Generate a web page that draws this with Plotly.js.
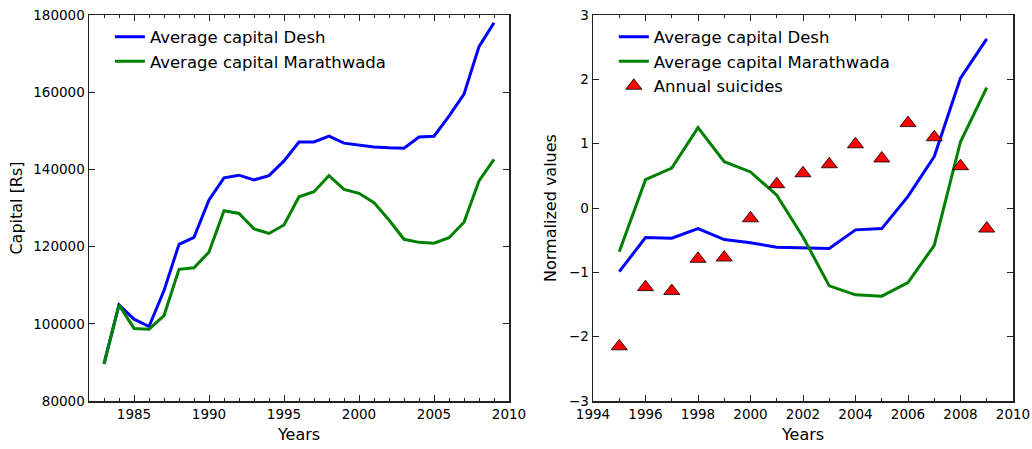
<!DOCTYPE html>
<html>
<head>
<meta charset="utf-8">
<script src="https://cdn.plot.ly/plotly-3.0.1.min.js"></script>
<style>html,body{margin:0;padding:0;background:#fff;}#chart{width:1032px;height:449px;}</style>
</head>
<body>
<div id="chart"></div>
<script>
// Left panel: capital in Rs
const yearsLeft = [1983,1984,1985,1986,1987,1988,1989,1990,1991,1992,1993,1994,1995,1996,1997,1998,1999,2000,2001,2002,2003,2004,2005,2006,2007,2008,2009];
const capitalDesh = [89600,104900,101200,99300,108600,120600,122400,132100,137800,138500,137300,138400,142200,147100,147100,148600,146800,146300,145800,145600,145500,148400,148600,153800,159500,171800,178000];
const capitalMarathwada = [89600,104900,98800,98600,102100,114100,114500,118600,129300,128600,124600,123400,125600,132900,134200,138400,134800,133800,131400,126900,121900,121100,120900,122300,126300,137000,142600];

// Right panel: normalized values
const yearsRight = [1995,1996,1997,1998,1999,2000,2001,2002,2003,2004,2005,2006,2007,2008,2009];
const normDesh = [-0.99,-0.46,-0.47,-0.32,-0.49,-0.54,-0.61,-0.62,-0.63,-0.34,-0.32,0.18,0.80,2.02,2.63];
const normMarathwada = [-0.68,0.44,0.62,1.25,0.72,0.56,0.20,-0.45,-1.21,-1.35,-1.37,-1.16,-0.58,1.03,1.87];
const normSuicides = [-2.15,-1.23,-1.29,-0.79,-0.77,-0.16,0.37,0.54,0.68,0.99,0.77,1.32,1.10,0.65,-0.32];

const labels = {desh: 'Average capital Desh', mar: 'Average capital Marathwada', sui: 'Annual suicides'};

const traces = [
  {x: yearsLeft, y: capitalDesh, name: labels.desh, type: 'scatter', mode: 'lines', line: {color: '#0000ff', width: 3}, xaxis: 'x', yaxis: 'y', legend: 'legend'},
  {x: yearsLeft, y: capitalMarathwada, name: labels.mar, type: 'scatter', mode: 'lines', line: {color: '#008000', width: 3}, xaxis: 'x', yaxis: 'y', legend: 'legend'},
  {x: yearsRight, y: normDesh, name: labels.desh, type: 'scatter', mode: 'lines', line: {color: '#0000ff', width: 3}, xaxis: 'x2', yaxis: 'y2', legend: 'legend2'},
  {x: yearsRight, y: normMarathwada, name: labels.mar, type: 'scatter', mode: 'lines', line: {color: '#008000', width: 3}, xaxis: 'x2', yaxis: 'y2', legend: 'legend2'},
  {x: yearsRight, y: normSuicides, name: labels.sui, type: 'scatter', mode: 'markers', marker: {symbol: 'triangle-up', size: 14, color: '#ff0000', line: {color: '#000000', width: 0.8}}, xaxis: 'x2', yaxis: 'y2', legend: 'legend2'}
];

const font = {family: 'DejaVu Sans, sans-serif', size: 13.5, color: '#000'};
const titleFont = {family: 'DejaVu Sans, sans-serif', size: 16, color: '#000'};
const axisCommon = {
  showgrid: false, zeroline: false, showline: true, linecolor: '#222', linewidth: 1.5, mirror: 'ticks',
  ticks: 'inside', ticklen: 6, tickcolor: '#222', tickwidth: 1, tickfont: font, fixedrange: true
};

const W = 1032;
const L = 89, R = 19;
const inner = W - L - R;

const layout = {
  width: 1032, height: 449,
  margin: {l: L, r: R, t: 15, b: 48},
  paper_bgcolor: '#fff', plot_bgcolor: '#fff',
  font: font,
  showlegend: true,
  xaxis: Object.assign({}, axisCommon, {domain: [0, (509 - L) / inner], range: [1982, 2010], tick0: 1985, dtick: 5,
    minor: {dtick: 1, tick0: 1982, ticks: 'inside', ticklen: 3, tickcolor: '#222', showgrid: false},
    title: {text: 'Years', font: titleFont, standoff: 8}}),
  yaxis: Object.assign({}, axisCommon, {domain: [0, 1], range: [80000, 180000], dtick: 20000, tickformat: 'd',
    title: {text: 'Capital [Rs]', font: titleFont, standoff: 6}}),
  xaxis2: Object.assign({}, axisCommon, {anchor: 'y2', domain: [(593 - L) / inner, 1], range: [1994, 2010], tick0: 1994, dtick: 2,
    minor: {dtick: 1, tick0: 1994, ticks: 'inside', ticklen: 3, tickcolor: '#222', showgrid: false},
    title: {text: 'Years', font: titleFont, standoff: 8}}),
  yaxis2: Object.assign({}, axisCommon, {anchor: 'x2', domain: [0, 1], range: [-3, 3], dtick: 1,
    title: {text: 'Normalized values', font: titleFont, standoff: 8}}),
  legend: {x: 0.0226, y: 0.988, xanchor: 'left', yanchor: 'top', bgcolor: 'rgba(0,0,0,0)', borderwidth: 0,
    font: {family: 'DejaVu Sans, sans-serif', size: 16.5, color: '#000'}, traceorder: 'normal'},
  legend2: {x: 0.568, y: 0.988, xanchor: 'left', yanchor: 'top', bgcolor: 'rgba(0,0,0,0)', borderwidth: 0,
    font: {family: 'DejaVu Sans, sans-serif', size: 16.5, color: '#000'}, traceorder: 'normal'}
};

Plotly.newPlot('chart', traces, layout, {displayModeBar: false, staticPlot: true});
</script>
</body>
</html>
